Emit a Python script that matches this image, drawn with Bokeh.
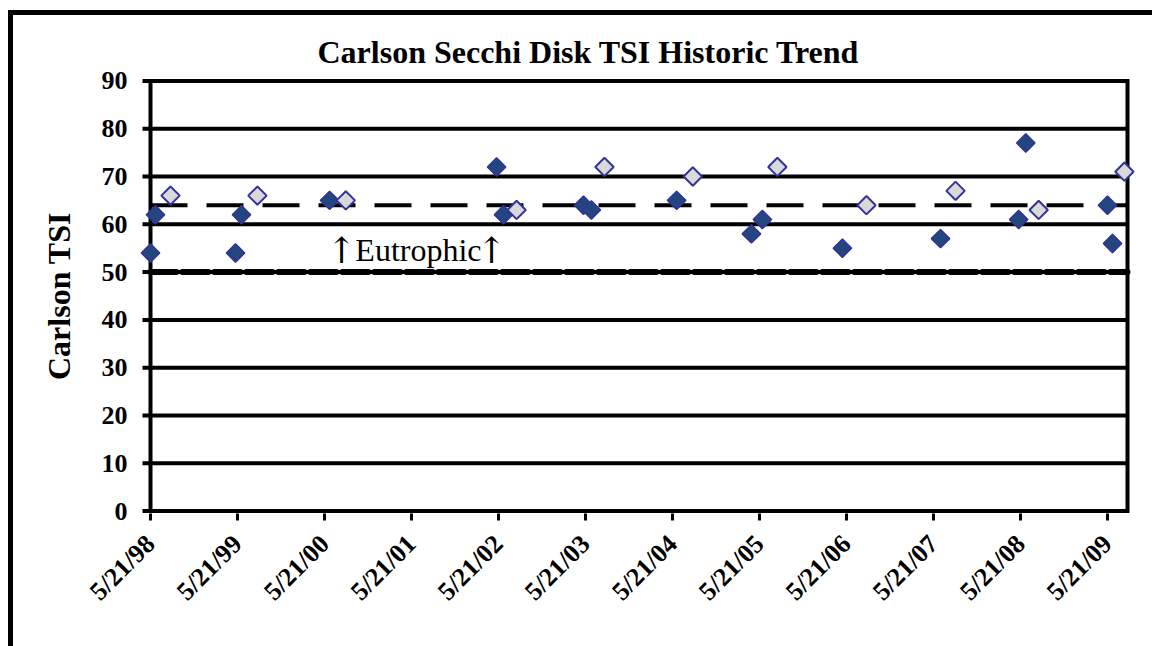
import pandas as pd
from bokeh.plotting import figure
from bokeh.models import ColumnDataSource, FixedTicker, Label, Title
from bokeh.embed import file_html
from bokeh.resources import INLINE

# ---------------- data ----------------
tick_dates = ["1998-05-21", "1999-05-21", "2000-05-21", "2001-05-21", "2002-05-21", "2003-05-21",
              "2004-05-21", "2005-05-21", "2006-05-21", "2007-05-21", "2008-05-21", "2009-05-21"]
tick_labels = ["5/21/98", "5/21/99", "5/21/00", "5/21/01", "5/21/02", "5/21/03",
               "5/21/04", "5/21/05", "5/21/06", "5/21/07", "5/21/08", "5/21/09"]

dark_dates = ["1998-05-21", "1998-06-11", "1999-05-13", "1999-06-07", "2000-06-11", "2002-05-13",
              "2002-06-11", "2003-05-13", "2003-06-15", "2004-06-07", "2005-04-17", "2005-06-02",
              "2006-05-04", "2007-06-20", "2008-05-13", "2008-06-12", "2009-05-21", "2009-06-11"]
dark_tsi = [54, 62, 54, 62, 65, 72, 62, 64, 63, 65, 58, 61, 55, 57, 61, 77, 64, 56]

light_dates = ["1998-08-13", "1999-08-13", "2000-08-18", "2002-08-05", "2003-08-09", "2004-08-14",
               "2005-08-04", "2006-08-13", "2007-08-22", "2008-08-05", "2009-07-31"]
light_tsi = [66, 66, 65, 63, 72, 70, 72, 64, 67, 63, 71]

mean_line = 64
eutrophic_line = 50
eutrophic_word = "Eutrophic"
eutrophic_arrow = "\u2191"
eutrophic_pos = ("2001-06-19", 54.6)

x_start, x_end = "1998-05-21", "2009-08-13"
y_min, y_max = 0, 90
y_ticks = [0, 10, 20, 30, 40, 50, 60, 70, 80, 90]

title_text = "Carlson Secchi Disk TSI Historic Trend"
y_title = "Carlson TSI"


def ms(dates):
    return [int((pd.Timestamp(d) - pd.Timestamp("1970-01-01")) // pd.Timedelta("1ms")) for d in dates]


tick_ms = ms(tick_dates)
x0, x1 = ms([x_start])[0], ms([x_end])[0]

# ---------------- geometry ----------------
W, H = 1139, 631            # figure size (page offset by the outer chart frame)
BORDER = 5                  # outer frame line width (counted in the canvas size)
FR_W, FR_H = 1005, 435      # plot frame size (incl. small overflow margins)
LEFT, TOP = 123, 63
PAD_PX = 14                 # extra frame room so edge markers are not clipped
px_per_ms = (FR_W - 2 * PAD_PX) / (x1 - x0)
pad_ms = PAD_PX / px_per_ms
tick_ms_len = 8 / px_per_ms
y_pad = 0.5

p = figure(width=W, height=H, output_backend="svg", toolbar_location=None,
           x_range=(x0 - pad_ms, x1 + pad_ms), y_range=(y_min - y_pad, y_max + y_pad),
           min_border_left=LEFT, min_border_right=W + BORDER - LEFT - FR_W,
           min_border_top=TOP, min_border_bottom=H + BORDER - TOP - FR_H)
p.styles = {"border-left": f"{BORDER}px solid black", "border-top": f"{BORDER}px solid black",
            "margin-left": "8px", "margin-top": "10px", "box-sizing": "content-box"}
p.background_fill_color = "white"
p.border_fill_color = "white"
p.outline_line_color = None

serif = "Liberation Serif"

# title
p.title = Title(text=title_text, align="left", offset=181, text_font=serif,
                text_font_style="bold", text_font_size="32px", text_color="black", standoff=17)

# x axis
p.xaxis.ticker = FixedTicker(ticks=tick_ms)
p.xaxis.major_label_overrides = {t: l for t, l in zip(tick_ms, tick_labels)}
p.xaxis.major_label_orientation = 0.785398
p.xaxis.major_label_text_font = serif
p.xaxis.major_label_text_font_style = "bold"
p.xaxis.major_label_text_font_size = "26px"
p.xaxis.major_label_text_color = "black"
p.xaxis.major_label_standoff = 19
p.xaxis.axis_line_color = None
p.xaxis.major_tick_line_width = 3
p.xaxis.major_tick_line_color = "black"
p.xaxis.major_tick_out = 7
p.xaxis.major_tick_in = 0
p.xaxis.minor_tick_line_color = None

# y axis (line and ticks drawn below at the data edge)
p.yaxis.ticker = FixedTicker(ticks=y_ticks)
p.yaxis.major_label_text_font = serif
p.yaxis.major_label_text_font_style = "bold"
p.yaxis.major_label_text_font_size = "26px"
p.yaxis.major_label_text_color = "black"
p.yaxis.major_label_standoff = 9
p.yaxis.axis_line_color = None
p.yaxis.major_tick_line_color = None
p.yaxis.major_tick_out = 0
p.yaxis.major_tick_in = 0
p.yaxis.minor_tick_line_color = None
p.yaxis.axis_label = y_title
p.yaxis.axis_label_text_font = serif
p.yaxis.axis_label_text_font_style = "bold"
p.yaxis.axis_label_text_font_size = "32px"
p.yaxis.axis_label_text_color = "black"
p.yaxis.axis_label_standoff = 22

p.xgrid.grid_line_color = None
p.ygrid.grid_line_color = None

# horizontal gridlines (incl. bottom axis at 0 and top at 90), with left tick marks
p.segment(x0=[x0 - tick_ms_len] * len(y_ticks), x1=[x1] * len(y_ticks), y0=y_ticks, y1=y_ticks,
          line_color="black", line_width=4)
# left axis and right border of the plot area
p.segment(x0=[x0, x1], x1=[x0, x1], y0=[y_min - 0.4, y_min - 0.4], y1=[y_max + 0.4, y_max + 0.4],
          line_color="black", line_width=4)

# reference lines
p.segment(x0=[x0], x1=[x1], y0=[mean_line], y1=[mean_line], line_color="black", line_width=4,
          line_dash="37 19")
p.segment(x0=[x0], x1=[x1], y0=[eutrophic_line], y1=[eutrophic_line], line_color="black",
          line_width=6, line_dash="26 6", line_cap="round")

# data
dsrc = ColumnDataSource(dict(x=ms(dark_dates), y=dark_tsi))
lsrc = ColumnDataSource(dict(x=ms(light_dates), y=light_tsi))
p.scatter("x", "y", source=dsrc, marker="square", angle=0.785398, size=13,
          fill_color="#23467f", line_color="#333399", line_width=1.5)
p.scatter("x", "y", source=lsrc, marker="square", angle=0.785398, size=13,
          fill_color="#d9d9d9", line_color="#333399", line_width=2)

# eutrophic label
ex = ms([eutrophic_pos[0]])[0]
p.add_layout(Label(x=ex, y=eutrophic_pos[1], text=eutrophic_word, text_align="center",
                   text_baseline="alphabetic", text_font=serif, text_font_size="32px",
                   text_color="black"))
for off in (-77, 73):
    p.add_layout(Label(x=ex, y=eutrophic_pos[1], x_offset=off, text=eutrophic_arrow,
                       text_align="center", text_baseline="alphabetic", text_font="DejaVu Serif",
                       text_font_size="36px", text_color="black"))

open("out.html", "w").write(file_html(p, INLINE))
